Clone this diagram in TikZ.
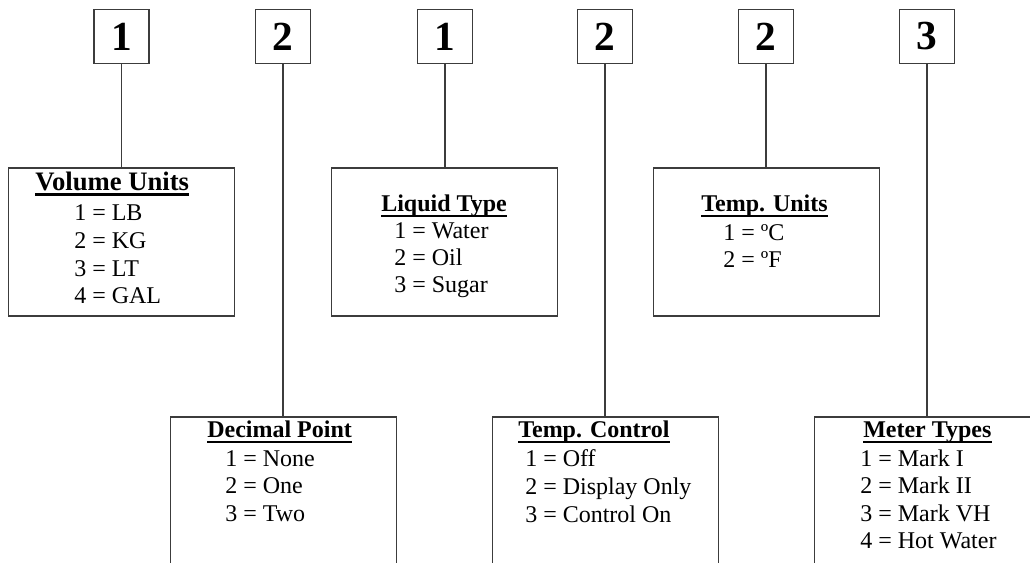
\documentclass[tikz,border=0pt]{standalone}
\usepackage{fontspec}
\setmainfont{Liberation Serif}
\definecolor{ln}{RGB}{60,60,60}
\begin{document}
\begin{tikzpicture}[x=0.75pt,y=-0.75pt,
  every node/.style={inner sep=0pt},
  digitbox/.style={draw=ln,line width=0.8pt,minimum width=41.25pt,minimum height=40.5pt,
    font=\fontsize{31}{31}\selectfont\bfseries},
  infobox/.style={draw=ln,line width=0.8pt,minimum width=169pt,minimum height=111pt},
  openbox/.style={draw=ln,line width=0.8pt,minimum width=169pt,minimum height=150pt},
  conn/.style={draw=ln,line width=0.8pt},
  bigttl/.style={anchor=base west,font=\fontsize{20}{22}\selectfont\bfseries},
  ttl/.style={anchor=base west,font=\fontsize{18}{20}\selectfont\bfseries},
  itm/.style={anchor=base west,font=\fontsize{18}{20}\selectfont},
  uline/.style={line width=1.5pt,black}]
\clip (0,0) rectangle (1030,563);
\fill[white] (0,0) rectangle (1030,563);

% digit boxes
\node[digitbox] (d1) at (121.5,36.5) {1};
\node[digitbox] (d2) at (283,36.5) {2};
\node[digitbox] (d3) at (445,36.5) {1};
\node[digitbox] (d4) at (605,36.5) {2};
\node[digitbox] (d5) at (766,36.5) {2};
\node[digitbox] (d6) at (927,36.5) {3};

% info boxes
\node[infobox] (b1) at (121.5,242) {};
\node[infobox] (b3) at (444.5,242) {};
\node[infobox] (b5) at (766.5,242) {};
\node[openbox] (b2) at (283.5,517) {};
\node[openbox] (b4) at (605.5,517) {};
\node[openbox] (b6) at (927.5,517) {};

% connectors
\foreach \d/\b in {d1/b1,d2/b2,d3/b3,d4/b4,d5/b5,d6/b6}
  \draw[conn] (\d.south) -- (\d.south |- \b.north);

% Volume Units
\node[bigttl] (t1) at (35,190) {Volume Units};
\node[itm] (v1) at (74,220) {1 = LB};
\node[itm] (v2) at (74,248) {2 = KG};
\node[itm] (v3) at (74,276) {3 = LT};
\node[itm] (v4) at (74,303) {4 = GAL};

% Liquid Type
\node[ttl] (t3) at (381,211) {Liquid Type};
\node[itm] (l1) at (394,238) {1 = Water};
\node[itm] (l2) at (394,265) {2 = Oil};
\node[itm] (l3) at (394,292) {3 = Sugar};

% Temp. Units
\node[ttl] (t5) at (701,211) {Temp. Units};
\node[itm] (u1) at (723,240) {1 = ºC};
\node[itm] (u2) at (723,267) {2 = ºF};

% Decimal Point
\node[ttl] (t2) at (207,437) {Decimal Point};
\node[itm] (p1) at (225,466) {1 = None};
\node[itm] (p2) at (225,493) {2 = One};
\node[itm] (p3) at (225,521) {3 = Two};

% Temp. Control
\node[ttl] (t4) at (518,437) {Temp. Control};
\node[itm] (c1) at (525,466) {1 = Off};
\node[itm] (c2) at (525,494) {2 = Display Only};
\node[itm] (c3) at (525,522) {3 = Control On};

% Meter Types
\node[ttl] (t6) at (863,437) {Meter Types};
\node[itm] (m1) at (860,466) {1 = Mark I};
\node[itm] (m2) at (860,493) {2 = Mark II};
\node[itm] (m3) at (860,521) {3 = Mark VH};
\node[itm] (m4) at (860,548) {4 = Hot Water};

% underlines
\draw[uline,line width=1.7pt] ([shift={(0,4.5)}]t1.base west) -- ([shift={(0,4.5)}]t1.base east);
\foreach \t in {t2,t3,t4,t5,t6}
  \draw[uline] ([shift={(0,4.5)}]\t.base west) -- ([shift={(0,4.5)}]\t.base east);
\end{tikzpicture}
\end{document}
